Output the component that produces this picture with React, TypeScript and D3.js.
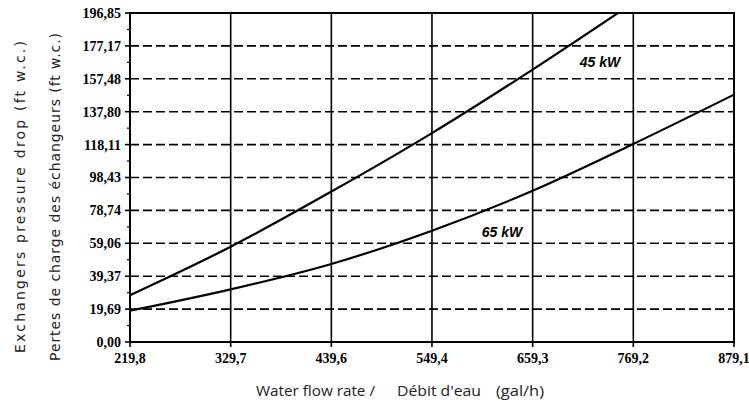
import React, { useEffect, useRef } from 'react';
import * as d3 from 'd3';

// axis ticks
const flowTicks = [219.8, 329.7, 439.6, 549.4, 659.3, 769.2, 879.1];
const flowLabels = ['219,8', '329,7', '439,6', '549,4', '659,3', '769,2', '879,1'];
const dropTicks = [0, 19.69, 39.37, 59.06, 78.74, 98.43, 118.11, 137.8, 157.48, 177.17, 196.85];
const dropLabels = ['0,00', '19,69', '39,37', '59,06', '78,74', '98,43', '118,11', '137,80', '157,48', '177,17', '196,85'];

// curves
const flow45 = [219.8, 329.7, 439.6, 549.4, 659.3, 769.2];
const drop45 = [28, 57, 90, 125, 163, 203];
const flow65 = [219.8, 329.7, 439.6, 549.4, 659.3, 769.2, 879.1];
const drop65 = [18.7, 31.5, 46.7, 66.6, 90.5, 118.5, 148];

// curve labels (data coords)
const seriesNames = ['45 kW', '65 kW'];
const labelFlow = [732.8, 625.9];
const labelDrop = [164.5, 62.8];

const W = 749;
const H = 408;

const App = () => {
    const svgRef = useRef<SVGSVGElement>(null);

    useEffect(() => {
        const svg = d3.select(svgRef.current);
        svg.selectAll('*').remove();

        const margin = { top: 13, right: 15, bottom: 66, left: 130 };
        const x = d3.scaleLinear()
            .domain([flowTicks[0], flowTicks[flowTicks.length - 1]])
            .range([margin.left, W - margin.right]);
        const y = d3.scaleLinear()
            .domain([0, dropTicks[dropTicks.length - 1]])
            .range([H - margin.bottom, margin.top]);

        const [x0, x1] = x.range();
        const [yb, yt] = y.range();

        svg.append('defs').append('clipPath').attr('id', 'plot-clip')
            .append('rect')
            .attr('x', x0).attr('y', yt)
            .attr('width', x1 - x0).attr('height', yb - yt);

        // horizontal dashed grid
        svg.append('g')
            .selectAll('line')
            .data(dropTicks.slice(1, -1))
            .join('line')
            .attr('x1', x0).attr('x2', x1)
            .attr('y1', d => y(d)).attr('y2', d => y(d))
            .attr('stroke', '#000')
            .attr('stroke-width', 1.6)
            .attr('stroke-dasharray', '9,4');

        // vertical solid grid
        svg.append('g')
            .selectAll('line')
            .data(flowTicks.slice(1, -1))
            .join('line')
            .attr('x1', d => x(d)).attr('x2', d => x(d))
            .attr('y1', yt).attr('y2', yb)
            .attr('stroke', '#000')
            .attr('stroke-width', 1.6);

        // frame
        svg.append('rect')
            .attr('x', x0).attr('y', yt)
            .attr('width', x1 - x0).attr('height', yb - yt)
            .attr('fill', 'none')
            .attr('stroke', '#000')
            .attr('stroke-width', 2);

        // y axis ticks (major + minor)
        const yAxis = svg.append('g');
        yAxis.selectAll('line.major')
            .data(dropTicks)
            .join('line')
            .attr('class', 'major')
            .attr('x1', x0 - 5).attr('x2', x0)
            .attr('y1', d => y(d)).attr('y2', d => y(d))
            .attr('stroke', '#000').attr('stroke-width', 1.6);
        yAxis.selectAll('line.minor')
            .data(d3.pairs(dropTicks).map(([a, b]) => (a + b) / 2))
            .join('line')
            .attr('class', 'minor')
            .attr('x1', x0 - 3).attr('x2', x0)
            .attr('y1', d => y(d)).attr('y2', d => y(d))
            .attr('stroke', '#000').attr('stroke-width', 1.2);
        yAxis.selectAll('text')
            .data(dropTicks)
            .join('text')
            .attr('x', x0 - 9)
            .attr('y', d => y(d))
            .attr('dy', '0.35em')
            .attr('text-anchor', 'end')
            .attr('font-family', '"Liberation Serif", serif')
            .attr('font-weight', 'bold')
            .attr('font-size', '14px')
            .text((d, i) => dropLabels[i]);

        // x axis ticks
        const xAxis = svg.append('g');
        xAxis.selectAll('line')
            .data(flowTicks)
            .join('line')
            .attr('x1', d => x(d)).attr('x2', d => x(d))
            .attr('y1', yb).attr('y2', yb + 5)
            .attr('stroke', '#000').attr('stroke-width', 1.6);
        xAxis.selectAll('text')
            .data(flowTicks)
            .join('text')
            .attr('x', d => x(d))
            .attr('y', yb + 21)
            .attr('text-anchor', 'middle')
            .attr('font-family', '"Liberation Serif", serif')
            .attr('font-weight', 'bold')
            .attr('font-size', '14px')
            .text((d, i) => flowLabels[i]);

        // curves
        const line = d3.line<[number, number]>()
            .x(d => x(d[0]))
            .y(d => y(d[1]))
            .curve(d3.curveMonotoneX);

        const curves = [
            flow45.map((f, i) => [f, drop45[i]] as [number, number]),
            flow65.map((f, i) => [f, drop65[i]] as [number, number]),
        ];
        svg.append('g')
            .attr('clip-path', 'url(#plot-clip)')
            .selectAll('path')
            .data(curves)
            .join('path')
            .attr('d', d => line(d))
            .attr('fill', 'none')
            .attr('stroke', '#000')
            .attr('stroke-width', 2.2);

        // curve labels
        svg.append('g')
            .selectAll('text')
            .data(seriesNames)
            .join('text')
            .attr('x', (d, i) => x(labelFlow[i]))
            .attr('y', (d, i) => y(labelDrop[i]))
            .attr('text-anchor', 'middle')
            .attr('font-family', '"Liberation Sans", Arial, sans-serif')
            .attr('font-weight', 'bold')
            .attr('font-style', 'italic')
            .attr('font-size', '14px')
            .text(d => d);

        // axis titles
        const yTitles = [
            { text: 'Exchangers pressure drop (ft w.c.)', cx: 20, len: 312 },
            { text: 'Pertes de charge des échangeurs (ft w.c.)', cx: 55, len: 328 },
        ];
        yTitles.forEach(t => {
            svg.append('text')
                .attr('transform', `translate(${t.cx}, 197) rotate(-90)`)
                .attr('text-anchor', 'middle')
                .attr('dy', '0.35em')
                .attr('font-family', '"DejaVu Sans", sans-serif')
                .attr('font-size', '14px')
                .attr('fill', '#222')
                .attr('textLength', t.len)
                .attr('lengthAdjust', 'spacing')
                .text(t.text);
        });

        const xTitle = svg.append('text')
            .attr('y', 396)
            .attr('font-family', '"Open Sans", sans-serif')
            .attr('font-size', '14px')
            .attr('fill', '#222');
        xTitle.append('tspan').attr('x', 256).attr('textLength', 119).attr('lengthAdjust', 'spacingAndGlyphs').text('Water flow rate /');
        xTitle.append('tspan').attr('x', 397).attr('textLength', 84).attr('lengthAdjust', 'spacingAndGlyphs').text('Débit d\'eau');
        xTitle.append('tspan').attr('x', 496).attr('textLength', 48).attr('lengthAdjust', 'spacingAndGlyphs').text('(gal/h)');
    }, []);

    return (
        <svg
            ref={svgRef}
            width={W}
            height={H}
            style={{ position: 'absolute', left: 0, top: 0, background: '#fff' }}
        />
    );
};

export default App;
